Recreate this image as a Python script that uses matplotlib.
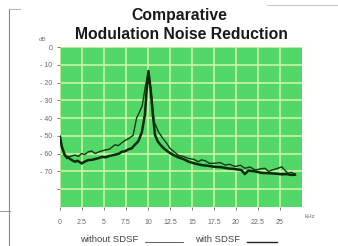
#!/usr/bin/env python3

import numpy as np
from matplotlib import pyplot as plt
from matplotlib.lines import Line2D

# frequency (kHz) and noise level (dB)
freq_with = [0, 0.2, 0.55, 0.9, 1.15, 1.4, 1.7, 2.0, 2.45, 2.8, 3.2, 3.6, 4.0, 4.4,
             4.75, 5.2, 5.6, 5.9, 6.3, 6.7, 7.0, 7.4, 7.8, 8.15, 8.5, 8.9, 9.3,
             9.65, 9.85, 10.05, 10.3, 10.55, 10.8, 11.1, 11.4, 11.8, 12.3, 12.8,
             13.4, 14.0, 14.6, 15.3, 16.1, 16.8, 17.6, 18.3, 19.1, 19.8, 20.6,
             21.0, 21.4, 22.2, 22.9, 23.7, 24.4, 25.2, 25.8, 26.3, 26.7]
db_with = [-50.5, -56, -61, -62, -63, -63.8, -64.5, -64, -65.5, -64.5, -63.6,
           -63.5, -63, -62.5, -61.8, -62, -61.3, -61, -60.5, -60, -59, -58.6,
           -57.5, -57, -55, -53, -48, -38, -24, -13.5, -24, -38, -49.5, -53,
           -55, -57, -59, -60.5, -62, -63, -64.5, -65.5, -66.4, -66.8, -67.4,
           -67.6, -68.3, -68.6, -69.2, -71.5, -69.5, -70, -70.8, -71, -71.2,
           -71.6, -71.5, -72, -71.8]

freq_without = [0, 0.35, 0.75, 1.2, 1.7, 2.1, 2.45, 2.8, 3.2, 3.6, 4.0, 4.5, 5.1,
                5.6, 6.25, 6.6, 7.0, 7.4, 7.8, 8.3, 8.7, 8.95, 9.35, 9.7, 10.05,
                10.4, 10.7, 11.2, 11.7, 12.1, 12.5, 13.0, 13.45, 14.0, 14.6, 15.2,
                15.7, 16.1, 16.5, 17.0, 17.6, 18.2, 18.75, 19.3, 19.9, 20.5, 21.0,
                21.6, 22.2, 22.8, 23.3, 23.7, 24.1, 24.6, 25.2, 25.6, 25.9, 26.3,
                26.7]
db_without = [-51.5, -58, -62.8, -61.5, -60.8, -61.5, -59.9, -60.5, -59, -58.5,
              -59.9, -58.8, -58, -57.5, -55, -55.5, -54, -52.5, -51.5, -49.7,
              -40, -37.5, -33, -22, -13.5, -27, -42, -47.8, -51.5, -54, -57,
              -59, -61, -61.5, -62.7, -63.2, -64.5, -63.5, -64, -65.5, -65.4,
              -65, -66.4, -66, -67.2, -66.5, -68.2, -67.5, -69.2, -68.5, -68.2,
              -70, -69.2, -68.5, -67.4, -69.5, -71, -70.5, -71.6]

xticks = [0, 2.5, 5, 7.5, 10, 12.5, 15, 17.5, 20, 22.5, 25]
xtick_labels = ['0', '2.5', '5', '7.5', '10', '12.5', '15', '17.5', '20', '22.5', '25']
yticks = [0, -10, -20, -30, -40, -50, -60, -70, -80]
ytick_labels = ['0', '- 10', '- 20', '- 30', '- 40', '- 50', '- 60', '- 70', '']

plt.rcParams['font.family'] = ['Liberation Sans', 'DejaVu Sans']

fig = plt.figure(figsize=(3.38, 2.46), dpi=100)
ax = fig.add_axes([0.1775, 0.1585, 0.716, 0.6504])
ax.set_facecolor('#52d869')

ax.plot(freq_without, db_without, color='#0f3a12', lw=1.0)
ax.plot(freq_with, db_with, color='#0a2a0c', lw=1.8)

ax.set_xlim(0, 27.5)
ax.set_ylim(-90, 0)
ax.set_xticks(xticks)
ax.set_xticklabels(xtick_labels)
ax.set_yticks(yticks)
ax.set_yticklabels(ytick_labels)
ax.grid(True, color='#d6f5a6', lw=1.1)
ax.tick_params(axis='both', labelsize=5, colors='#666666', length=2.5, width=0.6,
               pad=6)
ax.tick_params(axis='y', pad=3)
for s in ax.spines.values():
    s.set_visible(False)

ax.text(28.4, -95.2, 'kHz', fontsize=4.5, color='#777777', ha='center', va='center')
ax.text(-0.074, 1.03, 'dB', transform=ax.transAxes, fontsize=4.5, color='#777777',
        ha='center', va='bottom')

fig.text(0.53, 0.935, 'Comparative', fontsize=11.3, fontweight='bold',
         color='#1a1a1a', ha='center', va='center')
fig.text(0.536, 0.858, 'Modulation Noise Reduction', fontsize=11.3,
         fontweight='bold', color='#1a1a1a', ha='center', va='center')

# legend along the bottom
fig.text(0.236, 0.028, 'without SDSF', fontsize=6.8, color='#444444', va='center')
fig.add_artist(Line2D([0.43, 0.54], [0.018, 0.018], color='#444444', lw=0.6))
fig.text(0.577, 0.028, 'with SDSF', fontsize=6.8, color='#444444', va='center')
fig.add_artist(Line2D([0.73, 0.82], [0.018, 0.018], color='#222222', lw=1.0))

# scanned page frame
fig.add_artist(Line2D([0.027, 0.027], [0.0, 0.965], color='#888888', lw=0.8))
fig.add_artist(Line2D([0.027, 0.06], [0.965, 0.965], color='#aaaaaa', lw=0.6))
fig.add_artist(Line2D([0.79, 1.0], [0.98, 0.98], color='#bbbbbb', lw=0.6))
fig.add_artist(Line2D([0.0, 0.03], [0.142, 0.142], color='#888888', lw=0.6))

plt.savefig('out.png', dpi=100)
